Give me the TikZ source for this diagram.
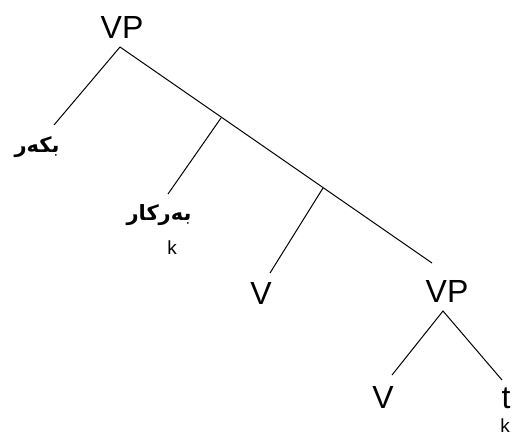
\documentclass[tikz,border=0pt]{standalone}
\usepackage{fontspec}
\setmainfont{Liberation Sans}
\newfontfamily\arabicfont[Script=Arabic]{DejaVu Sans}
\TeXXeTstate=1
\begin{document}
\begin{tikzpicture}[x=1pt,y=-1pt,
  big/.style={inner sep=0pt,font=\fontsize{32}{32}\selectfont},
  small/.style={inner sep=0pt,font=\fontsize{19}{19}\selectfont},
  ar/.style={inner sep=0pt,font=\arabicfont\bfseries\fontsize{21}{21}\selectfont},
  edge/.style={line width=1pt,black}]
\useasboundingbox (0,0) rectangle (513,436);
% labels
\node[big] (vp1) at (122,27) {VP};
\node[ar] (bkar) at (37,147) {\beginR بکەر\endR};
\node[ar] (berkar) at (159,215) {\beginR بەرکار\endR};
\node[small] (k1) at (172,248) {k};
\node[big] (v1) at (261,293) {V};
\node[big] (vp2) at (447,291) {VP};
\node[big] (v2) at (383,397) {V};
\node[big] (t) at (506,398) {t};
\node[small] (k2) at (505,426) {k};
% connector points
\coordinate (a1) at (120,47);
\coordinate (l1) at (54,125);
\coordinate (r1) at (432,263);
\coordinate (b1) at (221,118);
\coordinate (e1) at (168,194);
\coordinate (b2) at (323,188);
\coordinate (e2) at (270,273);
\coordinate (a2) at (443,311);
\coordinate (l2) at (392,375);
\coordinate (r2) at (502,380);
% connectors
\draw[edge] (l1) -- (a1) -- (r1);
\draw[edge] (b1) -- (e1);
\draw[edge] (b2) -- (e2);
\draw[edge] (l2) -- (a2) -- (r2);
\end{tikzpicture}
\end{document}
